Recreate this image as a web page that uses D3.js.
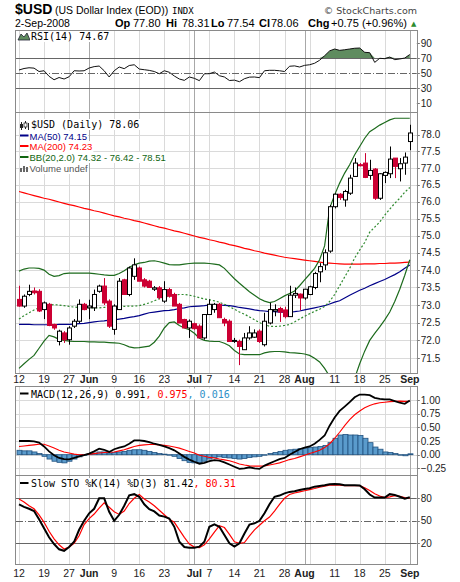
<!DOCTYPE html>
<html>
<head>
<meta charset="utf-8">
<script src="https://cdn.jsdelivr.net/npm/d3@7"></script>
<style>
  body { margin: 0; background: #fff; }
  svg { display: block; }
</style>
</head>
<body>
<div id="chart"></div>
<script>
// ---- data ----
const dates = [
  "2008-05-12","2008-05-13","2008-05-14","2008-05-15","2008-05-16","2008-05-19","2008-05-20","2008-05-21","2008-05-22","2008-05-23",
  "2008-05-27","2008-05-28","2008-05-29","2008-05-30","2008-06-02","2008-06-03","2008-06-04","2008-06-05","2008-06-06","2008-06-09",
  "2008-06-10","2008-06-11","2008-06-12","2008-06-13","2008-06-16","2008-06-17","2008-06-18","2008-06-19","2008-06-20","2008-06-23",
  "2008-06-24","2008-06-25","2008-06-26","2008-06-27","2008-06-30","2008-07-01","2008-07-02","2008-07-03","2008-07-07","2008-07-08",
  "2008-07-09","2008-07-10","2008-07-11","2008-07-14","2008-07-15","2008-07-16","2008-07-17","2008-07-18","2008-07-21","2008-07-22",
  "2008-07-23","2008-07-24","2008-07-25","2008-07-28","2008-07-29","2008-07-30","2008-07-31","2008-08-01","2008-08-04","2008-08-05",
  "2008-08-06","2008-08-07","2008-08-08","2008-08-11","2008-08-12","2008-08-13","2008-08-14","2008-08-15","2008-08-18","2008-08-19",
  "2008-08-20","2008-08-21","2008-08-22","2008-08-25","2008-08-26","2008-08-27","2008-08-28","2008-08-29","2008-09-02"
];
const open = [
  73.16,72.97,73.30,73.40,73.39,72.87,73.02,72.45,71.97,72.21, 72.02,72.40,72.54,73.02,72.92,72.92,73.39,73.54,73.11,72.31,
  72.87,73.72,73.30,73.82,74.06,73.72,73.68,73.45,73.49,73.11, 73.44,73.30,73.02,72.59,72.35,72.47,72.40,72.07,72.73,72.87,
  73.02,72.59,72.54,71.99,71.97,71.74,72.07,72.09,72.26,71.88, 72.49,72.83,72.90,72.86,72.67,73.28,73.31,73.20,73.30,73.50,
  73.95,74.15,74.55,75.85,76.22,76.05,76.25,76.75,77.10,77.15, 76.78,76.97,76.10,76.78,76.83,77.30,76.98,77.15,77.80
];
const high = [
  73.55,73.30,73.58,73.50,73.45,73.10,73.06,72.47,72.30,72.26, 72.40,72.60,73.16,73.06,73.15,73.44,73.58,73.77,73.16,73.02,
  73.77,73.75,74.10,74.34,74.10,73.77,73.72,73.54,73.54,73.68, 73.49,73.35,73.06,72.61,72.59,72.50,72.45,72.73,73.16,73.06,
  73.06,72.64,72.59,72.07,72.02,72.21,72.40,72.31,72.31,72.78, 73.06,73.02,72.95,72.95,73.55,73.50,73.33,73.45,73.55,73.95,
  74.20,74.60,75.90,76.25,76.25,76.35,76.80,77.30,77.15,77.45, 77.25,77.00,76.85,76.90,77.65,77.30,77.30,77.47,78.31
];
const low = [
  72.95,72.92,73.25,73.30,72.80,72.60,72.40,72.30,71.86,71.93, 71.88,72.35,72.49,72.85,72.60,72.83,73.35,73.00,72.35,72.16,
  72.87,73.30,73.25,73.72,73.68,73.50,73.50,73.40,73.16,73.06, 73.21,72.97,72.49,72.35,72.07,72.30,72.07,72.02,72.73,72.78,
  72.64,72.40,71.97,71.93,71.31,71.74,72.02,72.07,71.93,71.83, 72.45,72.68,72.52,72.62,72.67,73.20,72.85,73.15,73.28,73.45,
  73.65,74.00,74.50,75.80,76.05,75.85,76.20,76.75,77.05,76.70, 76.65,76.05,76.05,76.55,76.70,76.70,76.60,76.80,77.54
];
const close = [
  72.97,73.25,73.39,73.35,72.83,73.06,72.42,72.35,72.26,72.02, 72.35,72.54,73.02,72.87,72.97,73.30,73.54,73.06,72.40,72.97,
  73.68,73.30,74.06,74.15,73.68,73.54,73.50,73.49,73.21,73.44, 73.25,72.97,72.49,72.35,72.54,72.33,72.07,72.73,73.02,73.02,
  72.64,72.49,71.97,72.00,71.83,72.07,72.21,72.21,71.97,72.54, 72.87,72.87,72.80,72.67,73.28,73.33,73.20,73.45,73.52,73.90,
  74.10,74.50,75.85,76.22,76.12,76.30,76.70,77.15,77.08,76.72, 76.93,76.10,76.83,76.87,77.27,77.05,77.13,77.33,78.06
];
const ma50 = [
  72.45,72.45,72.45,72.44,72.44,72.44,72.44,72.44,72.45,72.45, 72.45,72.46,72.47,72.48,72.50,72.52,72.54,72.55,72.57,72.58,
  72.60,72.62,72.65,72.67,72.70,72.74,72.78,72.80,72.82,72.84, 72.85,72.87,72.90,72.92,72.95,72.96,72.97,72.98,73.00,73.00,
  73.00,72.99,72.98,72.96,72.93,72.91,72.89,72.86,72.84,72.83, 72.81,72.81,72.80,72.80,72.80,72.81,72.83,72.86,72.89,72.92,
  72.95,72.98,73.03,73.08,73.12,73.20,73.28,73.35,73.42,73.48, 73.55,73.61,73.67,73.73,73.80,73.87,73.95,74.05,74.15
];
const ma200 = [
  76.30,76.26,76.22,76.18,76.14,76.10,76.07,76.03,75.99,75.95, 75.91,75.88,75.84,75.80,75.77,75.73,75.70,75.66,75.62,75.58,
  75.55,75.51,75.48,75.44,75.41,75.37,75.33,75.29,75.25,75.22, 75.18,75.14,75.11,75.07,75.03,74.99,74.95,74.92,74.88,74.85,
  74.81,74.78,74.74,74.71,74.67,74.63,74.60,74.56,74.53,74.49, 74.46,74.43,74.40,74.37,74.35,74.33,74.31,74.29,74.27,74.25,
  74.23,74.21,74.20,74.19,74.18,74.17,74.17,74.17,74.17,74.18, 74.18,74.18,74.19,74.19,74.20,74.20,74.21,74.22,74.23
];
const bbUpper = [
  73.97,74.03,74.06,74.06,74.05,74.00,73.88,73.82,73.84,73.90, 73.91,73.91,73.91,73.91,73.91,73.90,73.88,73.86,73.85,73.85,
  73.90,73.98,74.08,74.15,74.20,74.22,74.26,74.27,74.24,74.20, 74.16,74.15,74.15,74.17,74.19,74.20,74.20,74.20,74.19,74.17,
  74.15,74.05,73.90,73.75,73.62,73.50,73.38,73.28,73.18,73.11, 73.07,73.10,73.18,73.26,73.33,73.40,73.55,73.72,73.88,74.05,
  74.30,74.70,75.80,76.20,76.55,76.85,77.10,77.40,77.65,77.90, 78.10,78.20,78.30,78.38,78.46,78.51,78.51,78.51,78.51
];
const bbMid = [
  72.60,72.70,72.78,72.86,72.92,72.97,73.00,73.01,73.00,72.98, 72.96,72.94,72.93,72.92,72.92,72.92,72.92,72.93,72.94,72.95,
  72.96,72.96,72.97,72.97,72.98,73.02,73.06,73.12,73.18,73.22, 73.26,73.28,73.30,73.30,73.28,73.25,73.21,73.17,73.15,73.12,
  73.08,73.02,72.95,72.88,72.80,72.74,72.66,72.58,72.50,72.44, 72.40,72.39,72.40,72.42,72.45,72.52,72.60,72.68,72.75,72.82,
  72.88,72.96,73.10,73.30,73.55,73.80,74.05,74.35,74.58,74.80, 75.10,75.25,75.40,75.60,75.78,75.95,76.10,76.28,76.42
];
const bbLower = [
  71.22,71.35,71.47,71.58,71.78,71.98,72.14,72.10,72.03,72.00, 71.98,71.97,71.97,71.97,71.96,71.96,71.95,71.95,71.94,71.93,
  71.92,71.88,71.82,71.79,71.80,71.82,71.84,71.95,72.12,72.35, 72.50,72.52,72.42,72.35,72.30,72.20,72.06,72.00,71.98,71.97,
  71.97,71.92,71.85,71.72,71.62,71.60,71.60,71.60,71.60,71.65, 71.68,71.69,71.69,71.68,71.66,71.65,71.64,71.62,71.58,71.50,
  71.40,71.22,71.00,70.80,70.62,70.55,70.60,70.95,71.35,71.70, 72.00,72.20,72.38,72.58,72.80,73.10,73.45,73.85,74.30
];
const rsi = [
  54.0,56.0,57.0,56.5,52.0,53.0,45.6,41.0,44.0,42.0, 45.0,53.0,52.7,53.0,56.7,58.5,59.3,53.0,44.7,53.0,
  58.0,55.8,60.0,61.0,55.3,54.4,53.5,52.0,49.0,53.0, 51.0,46.0,42.0,40.2,44.7,42.9,39.8,49.0,49.1,51.3,
  46.4,44.7,40.0,40.5,38.4,42.4,44.5,44.7,43.8,53.0, 53.6,53.6,53.0,52.0,59.0,59.5,58.0,60.2,61.0,63.0,
  67.0,73.0,79.5,82.0,80.2,81.0,82.0,83.0,83.3,77.6, 77.1,64.2,69.6,69.1,71.3,67.8,68.7,70.0,74.67
];
const macdLine = [
  0.25,0.25,0.25,0.245,0.22,0.15,0.06,-0.01,-0.06,-0.08, -0.085,-0.06,-0.03,-0.01,0.02,0.06,0.11,0.09,0.05,0.10,
  0.13,0.15,0.20,0.26,0.26,0.25,0.23,0.20,0.18,0.15, 0.12,0.08,0.02,-0.04,-0.09,-0.13,-0.165,-0.15,-0.12,-0.10,
  -0.11,-0.14,-0.18,-0.22,-0.26,-0.25,-0.23,-0.25,-0.26,-0.20, -0.16,-0.12,-0.08,-0.06,0.00,0.05,0.10,0.13,0.15,0.20,
  0.27,0.35,0.53,0.68,0.80,0.88,0.96,1.05,1.10,1.10, 1.09,1.04,1.02,1.01,1.01,0.98,0.95,0.93,0.991
];
const macdSignal = [
  0.15,0.16,0.17,0.18,0.19,0.19,0.16,0.12,0.08,0.05, 0.03,0.01,0.00,0.00,0.01,0.02,0.03,0.04,0.045,0.05,
  0.07,0.09,0.12,0.15,0.17,0.18,0.185,0.185,0.18,0.17, 0.16,0.14,0.12,0.09,0.06,0.03,-0.01,-0.03,-0.05,-0.06,
  -0.08,-0.095,-0.11,-0.14,-0.17,-0.19,-0.205,-0.21,-0.21,-0.205, -0.19,-0.17,-0.15,-0.12,-0.09,-0.07,-0.04,-0.01,0.02,0.05,
  0.08,0.13,0.20,0.30,0.41,0.53,0.64,0.73,0.80,0.86, 0.90,0.93,0.95,0.96,0.97,0.975,0.98,0.975,0.975
];
const macdHist = [
  0.08,0.07,0.07,0.05,0.02,-0.03,-0.08,-0.12,-0.14,-0.15, -0.12,-0.08,-0.04,-0.01,0.01,0.03,0.05,0.05,0.03,0.04,
  0.05,0.06,0.08,0.09,0.09,0.08,0.06,0.04,0.02,0.01, 0.00,-0.03,-0.07,-0.11,-0.14,-0.15,-0.15,-0.12,-0.08,-0.05,
  -0.04,-0.05,-0.06,-0.07,-0.08,-0.07,-0.05,-0.04,-0.03,-0.01, 0.02,0.04,0.06,0.08,0.09,0.10,0.11,0.12,0.13,0.14,
  0.15,0.17,0.22,0.30,0.36,0.37,0.36,0.36,0.35,0.30, 0.22,0.14,0.10,0.05,0.04,0.02,0.00,-0.02,0.016
];
const stoK = [
  72,68.5,66,63,52,40,28,19,12,10, 15,22,38,50,60,66,80,80,62,50,
  58,70,84,85.5,82,72,65.5,62.5,57,55.6, 53,42,22,15,14.2,14.2,15.5,22,42,45.3,
  42,31,20,15.6,20,33,45,46.7,50,60, 72,82,83.6,86.5,88.5,89.5,91,92.4,93.5,95.5,
  96.5,97.5,98.8,99,98.7,97.5,97.5,97.5,97,92, 85,80.9,80.9,81,85.5,84.5,82,79.5,81.42
];
const stoD = [
  79,75,70,66,58,48,36,26,18,12.4, 15,20,30,45,53,59,67,74,68,62,
  58.5,63,73,80,85,79,75,70,64,58, 52,48,38,28,19,15,14.2,18,26,35,
  43.6,41,32,22,20,21,30,38,44,50, 55,63,72,80,85,87,88.5,90,91.5,93,
  94.7,96,97.5,98,97.5,97,97,97,96.9,94, 90.5,86,83,81,82,83.5,82.5,81,80.31
];
// x-axis ticks (bar indexes) and their labels
const tickIdx = [0,5,10,14,19,24,29,35,38,43,48,53,57,63,68,73,78];
const tickLabels = ["12","19","27","Jun","9","16","23","Jul","7","14","21","28","Aug","11","18","25","Sep"];
const weekStarts = [0,5,10,14,19,24,29,34,38,43,48,53,58,63,68,73,78];
const monthStarts = [14,35,57,78];
const priceTicks = [71.5,72.0,72.5,73.0,73.5,74.0,74.5,75.0,75.5,76.0,76.5,77.0,77.5,78.0];
const rsiTicks = [10,30,50,70,90];
const macdTicks = [-0.25,0,0.25,0.5,0.75,1.0];
const stoTicks = [20,50,80];

// ---- layout ----
const width = 460, height = 582;
const left = 16, right = 416.8;
const red = "#cc0033";
const mono = "'DejaVu Sans Mono', monospace";
const sans = "'Liberation Sans', Arial, sans-serif";
const px = v => Math.round(v) + 0.5;

const rsiP = {top: 31, bottom: 113, id: "rsi"};
const priceP = {top: 113, bottom: 374, id: "price"};
const macdP = {top: 387, bottom: 476, id: "macd"};
const stoP = {top: 476, bottom: 565, id: "sto"};

const x = d3.scaleLinear().domain([-0.6, 79.4]).range([left, right]);
const yRsi = d3.scaleLinear().domain([-3.3, 106]).range([rsiP.bottom, rsiP.top]);
const yPrice = d3.scaleLog().domain([71.064, 78.67]).range([priceP.bottom, priceP.top]);
const yMacd = d3.scaleLinear().domain([-0.39, 1.238]).range([macdP.bottom, macdP.top]);
const ySto = d3.scaleLinear().domain([-8.9, 109.7]).range([stoP.bottom, stoP.top]);

const svg = d3.select("#chart").append("svg")
  .attr("width", width).attr("height", height)
  .style("font-family", sans);

const defs = svg.append("defs");

// Build a panel: background grid, clip, right axis labels. Returns the data group.
function makePanel(p, yScale, ticks, fmt, lightGrid) {
  defs.append("clipPath").attr("id", "clip-" + p.id)
    .append("rect").attr("x", left).attr("y", p.top)
    .attr("width", right - left).attr("height", p.bottom - p.top);

  const g = svg.append("g");
  g.selectAll("line.wk").data(weekStarts).join("line")
    .attr("x1", d => px(x(d))).attr("x2", d => px(x(d)))
    .attr("y1", p.top).attr("y2", p.bottom)
    .attr("stroke", "#dadada");
  g.selectAll("line.hz").data(lightGrid).join("line")
    .attr("x1", left).attr("x2", right)
    .attr("y1", d => px(yScale(d))).attr("y2", d => px(yScale(d)))
    .attr("stroke", "#dadada");
  g.selectAll("line.mo").data(monthStarts).join("line")
    .attr("x1", d => px(x(d))).attr("x2", d => px(x(d)))
    .attr("y1", p.top).attr("y2", p.bottom)
    .attr("stroke", "#a8a8a8");

  // right axis
  const ax = svg.append("g");
  ax.selectAll("line").data(ticks).join("line")
    .attr("x1", right).attr("x2", right + 3)
    .attr("y1", d => px(yScale(d))).attr("y2", d => px(yScale(d)))
    .attr("stroke", "#777");
  ax.selectAll("text").data(ticks).join("text")
    .attr("x", right + 4).attr("y", d => yScale(d)).attr("dy", "0.35em")
    .attr("font-size", 10).attr("fill", "#222")
    .text(fmt);

  return svg.append("g").attr("clip-path", `url(#clip-${p.id})`);
}

function frame(p) {
  svg.append("rect")
    .attr("x", px(left) - 1).attr("y", px(p.top) - 1)
    .attr("width", Math.round(right - left) + 1).attr("height", Math.round(p.bottom - p.top))
    .attr("fill", "none").attr("stroke", "#8a8a8a");
}

function level(g, yScale, v, dash) {
  g.append("line")
    .attr("x1", left).attr("x2", right)
    .attr("y1", px(yScale(v))).attr("y2", px(yScale(v)))
    .attr("stroke", "#666").attr("stroke-dasharray", dash || null);
}

function lineOf(yScale) {
  return d3.line().x((d, i) => x(i)).y(d => yScale(d));
}

function xLabels(yBase) {
  svg.append("g").selectAll("text").data(tickIdx).join("text")
    .attr("x", d => x(d)).attr("y", yBase)
    .attr("text-anchor", "middle").attr("font-size", 10.5).attr("fill", "#222")
    .attr("font-weight", (d, i) => /^[A-Z]/.test(tickLabels[i]) ? "bold" : null)
    .text((d, i) => tickLabels[i]);
}

// white box behind legend text
function backed(g, textSel) {
  const b = textSel.node().getBBox();
  g.insert("rect", () => textSel.node())
    .attr("x", b.x - 1).attr("y", b.y).attr("width", b.width + 2).attr("height", b.height)
    .attr("fill", "#fff");
}

// ---- header ----
const hdr = svg.append("g");
hdr.append("text").attr("x", 15).attr("y", 14).attr("font-size", 14).attr("font-weight", "bold").text("$USD");
hdr.append("text").attr("x", 55).attr("y", 14).attr("font-size", 10.5).text("(US Dollar Index (EOD))");
hdr.append("text").attr("x", 172).attr("y", 14).attr("font-size", 9).attr("font-family", mono).text("INDX");
hdr.append("text").attr("x", 417).attr("y", 14).attr("text-anchor", "end").attr("font-size", 9.5)
  .attr("font-family", "'DejaVu Sans', sans-serif").attr("fill", "#444").text("© StockCharts.com");
hdr.append("text").attr("x", 15).attr("y", 27).attr("font-size", 10.5).text("2-Sep-2008");
const quote = [
  ["Op", 115, true], ["77.80", 133, false], ["Hi", 166, true], ["78.31", 182, false],
  ["Lo", 211, true], ["77.54", 227, false], ["Cl", 259, true], ["78.06", 271, false],
  ["Chg", 308, true], ["+0.75 (+0.96%)", 331, false]
];
hdr.selectAll("text.q").data(quote).join("text")
  .attr("x", d => d[1]).attr("y", 27).attr("font-size", 11)
  .attr("font-weight", d => d[2] ? "bold" : null).text(d => d[0]);
hdr.append("text").attr("x", 411).attr("y", 26).attr("font-size", 7)
  .attr("font-family", "'DejaVu Sans', sans-serif").attr("fill", "#2e8b2e").text("▲");

// ---- RSI panel ----
const gRsi = makePanel(rsiP, yRsi, rsiTicks, d => d, []);
level(gRsi, yRsi, 70);
level(gRsi, yRsi, 30);
level(gRsi, yRsi, 50, "7,2,1,2");
gRsi.append("path").datum(rsi)
  .attr("d", d3.area().x((d, i) => x(i)).y0(yRsi(70)).y1(d => yRsi(Math.max(d, 70))))
  .attr("fill", "#5f8c5f");
gRsi.append("path").datum(rsi).attr("d", lineOf(yRsi))
  .attr("fill", "none").attr("stroke", "#111").attr("stroke-width", 1);
const rsiLeg = svg.append("g");
rsiLeg.append("path").attr("d", "M18,40 L21,34 L24,37 L27,33 L30,40 Z").attr("fill", "#5f8c5f").attr("stroke", "#223").attr("stroke-width", 0.8);
const rsiTxt = rsiLeg.append("text").attr("x", 31).attr("y", 40).attr("font-size", 10).attr("font-family", mono).text("RSI(14) 74.67");
backed(rsiLeg, rsiTxt);
frame(rsiP);

// ---- price panel ----
const gPrice = makePanel(priceP, yPrice, priceTicks, d3.format(".1f"), priceTicks);
gPrice.append("path").datum(ma200).attr("d", lineOf(yPrice))
  .attr("fill", "none").attr("stroke", "#ff0000").attr("stroke-width", 1.2);
gPrice.append("path").datum(ma50).attr("d", lineOf(yPrice))
  .attr("fill", "none").attr("stroke", "#000088").attr("stroke-width", 1.2);
gPrice.append("path").datum(bbMid).attr("d", lineOf(yPrice))
  .attr("fill", "none").attr("stroke", "#2f8a2f").attr("stroke-width", 1.2).attr("stroke-dasharray", "2,2");
[bbUpper, bbLower].forEach(s => {
  gPrice.append("path").datum(s).attr("d", lineOf(yPrice))
    .attr("fill", "none").attr("stroke", "#1d6b1d").attr("stroke-width", 1.2);
});

const bars = gPrice.selectAll("g.bar").data(d3.range(close.length)).join("g");
bars.append("line")
  .attr("x1", i => px(x(i))).attr("x2", i => px(x(i)))
  .attr("y1", i => yPrice(high[i])).attr("y2", i => yPrice(low[i]))
  .attr("stroke", i => close[i] >= open[i] ? "#000" : red);
bars.append("rect")
  .attr("x", i => Math.round(x(i)) - 1.5).attr("width", 4)
  .attr("y", i => yPrice(Math.max(open[i], close[i])))
  .attr("height", i => Math.max(1, Math.abs(yPrice(open[i]) - yPrice(close[i]))))
  .attr("fill", i => close[i] >= open[i] ? "#fff" : red)
  .attr("stroke", i => close[i] >= open[i] ? "#000" : red);

const leg = svg.append("g");
leg.append("path").attr("d", "M21.5,122 V130 M25.5,121 V129 M28.5,123 V130").attr("stroke", "#222");
leg.append("rect").attr("x", 20).attr("y", 124).attr("width", 3).attr("height", 4).attr("fill", "#222");
leg.append("rect").attr("x", 24).attr("y", 123).attr("width", 3).attr("height", 4).attr("fill", "#fff").attr("stroke", "#222").attr("stroke-width", 0.8);
const t0 = leg.append("text").attr("x", 31).attr("y", 128).attr("font-size", 10).attr("font-family", mono).text("$USD (Daily) 78.06");
backed(leg, t0);
const overlayLeg = [
  ["MA(50) 74.15", "#000088", 139.5],
  ["MA(200) 74.23", "#ff0000", 150],
  ["BB(20,2.0) 74.32 - 76.42 - 78.51", "#116611", 161]
];
overlayLeg.forEach(([label, color, yb]) => {
  const t = leg.append("text").attr("x", 29.5).attr("y", yb).attr("font-size", 9.5).attr("fill", color).text(label);
  backed(leg, t);
  leg.append("line").attr("x1", 20).attr("x2", 28.5).attr("y1", yb - 4).attr("y2", yb - 4)
    .attr("stroke", color).attr("stroke-width", 2);
});
const tv = leg.append("text").attr("x", 29.5).attr("y", 172).attr("font-size", 9.5).attr("fill", "#555").text("Volume undef");
backed(leg, tv);
leg.append("path").attr("d", "M20,172 V168 H22 V172 M23,172 V166 H25 V172 M26,172 V167 H28 V172").attr("fill", "#666");
frame(priceP);
xLabels(383);

// ---- MACD panel ----
const gMacd = makePanel(macdP, yMacd, macdTicks, d3.format(".2f"), macdTicks);
gMacd.selectAll("rect.h").data(macdHist).join("rect")
  .attr("x", (d, i) => Math.round(x(i)) - 2).attr("width", 5)
  .attr("y", d => yMacd(Math.max(0, d)))
  .attr("height", d => Math.max(0.5, Math.abs(yMacd(d) - yMacd(0))))
  .attr("fill", "#5a9bcc").attr("stroke", "#22527f").attr("stroke-width", 0.8);
gMacd.append("path").datum(macdSignal).attr("d", lineOf(yMacd))
  .attr("fill", "none").attr("stroke", "#ff0000").attr("stroke-width", 1.1);
gMacd.append("path").datum(macdLine).attr("d", lineOf(yMacd))
  .attr("fill", "none").attr("stroke", "#000").attr("stroke-width", 1.8);
const mLeg = svg.append("g");
const mt = mLeg.append("text").attr("x", 31).attr("y", 397.5).attr("font-size", 10).attr("font-family", mono);
mt.append("tspan").text("MACD(12,26,9) 0.991");
mt.append("tspan").attr("fill", "#ff0000").text(", 0.975");
mt.append("tspan").attr("fill", "#2d8fc8").text(", 0.016");
backed(mLeg, mt);
mLeg.append("line").attr("x1", 20).attr("x2", 28.5).attr("y1", 393.5).attr("y2", 393.5).attr("stroke", "#000").attr("stroke-width", 2);
frame(macdP);

// ---- Slow stochastic panel ----
const gSto = makePanel(stoP, ySto, stoTicks, d => d, []);
level(gSto, ySto, 80);
level(gSto, ySto, 20);
level(gSto, ySto, 50, "7,2,1,2");
gSto.append("path").datum(stoD).attr("d", lineOf(ySto))
  .attr("fill", "none").attr("stroke", "#ff0000").attr("stroke-width", 1.2);
gSto.append("path").datum(stoK).attr("d", lineOf(ySto))
  .attr("fill", "none").attr("stroke", "#000").attr("stroke-width", 2);
const sLeg = svg.append("g");
const st = sLeg.append("text").attr("x", 31).attr("y", 487).attr("font-size", 10).attr("font-family", mono);
st.append("tspan").text("Slow STO %K(14) %D(3) 81.42");
st.append("tspan").attr("fill", "#ff0000").text(", 80.31");
backed(sLeg, st);
sLeg.append("line").attr("x1", 20).attr("x2", 28.5).attr("y1", 483).attr("y2", 483).attr("stroke", "#000").attr("stroke-width", 2);
frame(stoP);
xLabels(577);
</script>
</body>
</html>
